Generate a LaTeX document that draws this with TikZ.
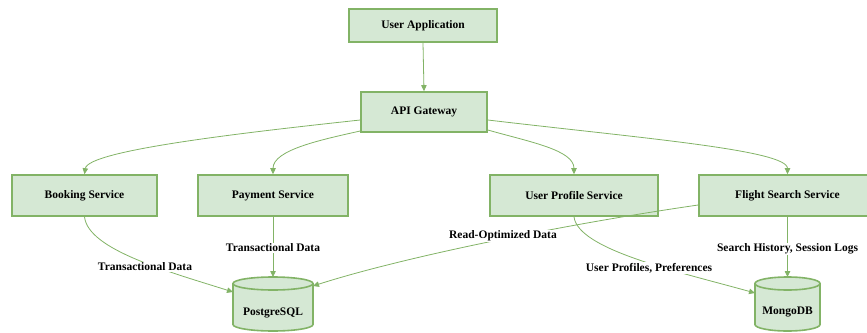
\documentclass[tikz,border=0pt]{standalone}
\usepackage{fontspec}
\setmainfont{Liberation Serif}
\usetikzlibrary{arrows.meta}
\definecolor{gfill}{HTML}{D5E8D4}
\definecolor{gline}{HTML}{82B366}
\tikzset{
  txt/.style={font=\fontsize{11.5}{13}\selectfont\bfseries},
  box/.style={txt, draw=gline, fill=gfill, line width=1.6pt, inner sep=0pt},
  holder/.style={inner sep=0pt, outer sep=0pt},
  db/.style={draw=gline, fill=gfill, line width=1.6pt},
  lbl/.style={txt, fill=white, inner sep=1pt},
  conn/.style={draw=gline, line width=0.8pt, -{Triangle[length=6pt,width=5.5pt]}},
}
\begin{document}
\begin{tikzpicture}[x=1pt,y=1pt]
\useasboundingbox (0,0) rectangle (867,-332);

% boxes
\node[box, minimum width=148pt, minimum height=33pt] (ua) at (423,-25.5) {User Application};
\node[box, minimum width=126pt, minimum height=40pt] (api) at (424,-112) {API Gateway};
\node[box, minimum width=145pt, minimum height=41pt] (bk) at (84.5,-195.5) {Booking Service};
\node[box, minimum width=150pt, minimum height=41pt] (pay) at (273,-195.5) {Payment Service};
\node[box, minimum width=168pt, minimum height=41pt] (up) at (574,-195.5) {User Profile Service};
\node[box, minimum width=177pt, minimum height=41pt] (fs) at (787.5,-195.5) {Flight Search Service};

% databases
\node[holder, minimum width=80pt, minimum height=54pt] (pg) at (273,-304) {};
\filldraw[db] ([yshift=-6.5pt]pg.north west) -- ([yshift=6.5pt]pg.south west)
  arc[start angle=180, end angle=360, x radius=40pt, y radius=6.5pt]
  -- ([yshift=-6.5pt]pg.north east)
  arc[start angle=0, end angle=180, x radius=40pt, y radius=6.5pt] -- cycle;
\draw[db, fill=none] ([yshift=-6.5pt]pg.north west)
  arc[start angle=180, end angle=360, x radius=40pt, y radius=6.5pt];
\node[txt] (pgt) at ([yshift=-9pt]pg.center) {PostgreSQL};

\node[holder, minimum width=65pt, minimum height=54pt] (mg) at (787.5,-304) {};
\filldraw[db] ([yshift=-6.5pt]mg.north west) -- ([yshift=6.5pt]mg.south west)
  arc[start angle=180, end angle=360, x radius=32.5pt, y radius=6.5pt]
  -- ([yshift=-6.5pt]mg.north east)
  arc[start angle=0, end angle=180, x radius=32.5pt, y radius=6.5pt] -- cycle;
\draw[db, fill=none] ([yshift=-6.5pt]mg.north west)
  arc[start angle=180, end angle=360, x radius=32.5pt, y radius=6.5pt];
\node[txt] (mgt) at ([yshift=-8pt]mg.center) {MongoDB};

% connectors
\draw[conn] (ua.south) -- (api.north);
\draw[conn] ([yshift=-8pt]api.west) .. controls (250,-132) and (88,-150) .. (bk.north);
\draw[conn] ([yshift=-19pt]api.west) .. controls (320,-140) and (273,-150) .. (pay.north);
\draw[conn] ([yshift=-18pt]api.east) .. controls (530,-142) and (574,-150) .. (up.north);
\draw[conn] ([yshift=-8pt]api.east) .. controls (640,-138) and (787.5,-150) .. (fs.north);

\draw[conn] (bk.south) .. controls (88,-250) and (170,-272) .. ([yshift=12pt]pg.west)
  node[lbl] (l1) at (145,-267) {Transactional Data};
\draw[conn] (pay.south) -- (pg.north)
  node[lbl] (l2) at (273,-248) {Transactional Data};
\draw[conn] ([yshift=-9.5pt]fs.west) .. controls (560,-225) and (400,-258) .. ([yshift=18pt]pg.east)
  node[lbl] (l3) at (503,-236) {Read-Optimized Data};
\draw[conn] (up.south) .. controls (578,-250) and (680,-272) .. ([yshift=11pt]mg.west)
  node[lbl] (l4) at (649,-268) {User Profiles, Preferences};
\draw[conn] (fs.south) -- (mg.north)
  node[lbl] (l5) at (787.5,-249) {Search History, Session Logs};
\end{tikzpicture}
\end{document}
